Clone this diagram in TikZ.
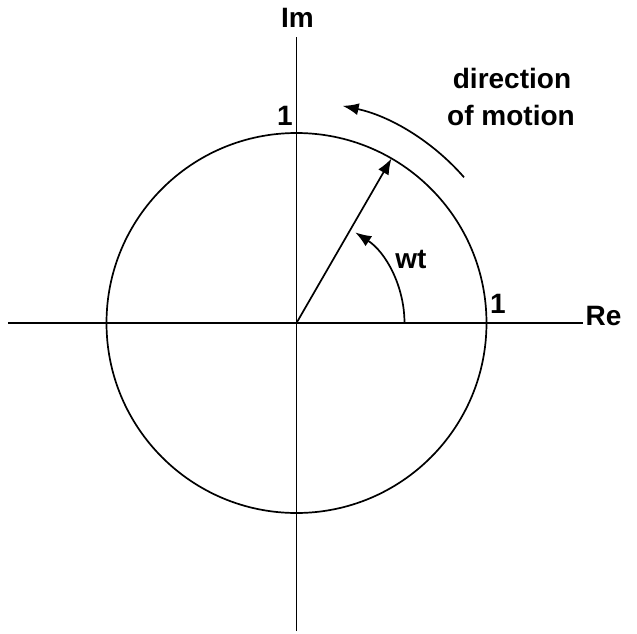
\documentclass[tikz,border=0pt]{standalone}
\usepackage{fontspec}
\setmainfont{Liberation Sans}
\usetikzlibrary{arrows.meta}
\begin{document}
\begin{tikzpicture}[x=1pt,y=1pt,
  line/.style={line width=1.7pt},
  arr/.style={line width=1.7pt,-{Latex[length=16pt,width=12pt]}},
  lbl/.style={inner sep=0pt,font=\fontsize{28}{37}\selectfont\bfseries}]
\useasboundingbox (-296.5,-310) rectangle (340.5,323);
\coordinate (O) at (0,0);
\coordinate (xl) at (-288.5,0);
\coordinate (xr) at (286.5,0);
\coordinate (yt) at (0,286);
\coordinate (yb) at (0,-308);
\draw[line] (xl) -- (xr);
\draw[line] (yb) -- (yt);
\draw[line] (O) circle[radius=190];
\coordinate (P) at (60:190);
\draw[arr] (O) -- (P);
\draw[arr] (108,0) arc[start angle=0,end angle=57,radius=108];
\draw[arr] (41:222) arc[start angle=41,end angle=78,radius=222];
\node[lbl,anchor=base] (im) at (1,296) {Im};
\node[lbl,anchor=base west] (re) at (289,-2) {Re};
\node[lbl,anchor=base] (one1) at (-11.5,198) {1};
\node[lbl,anchor=base] (one2) at (201.5,10) {1};
\node[lbl,anchor=base] (wt) at (114.5,55) {wt};
\node[lbl,anchor=base] (dir1) at (215.5,235) {direction};
\node[lbl,anchor=base] (dir2) at (214.5,198) {of motion};
\end{tikzpicture}
\end{document}
